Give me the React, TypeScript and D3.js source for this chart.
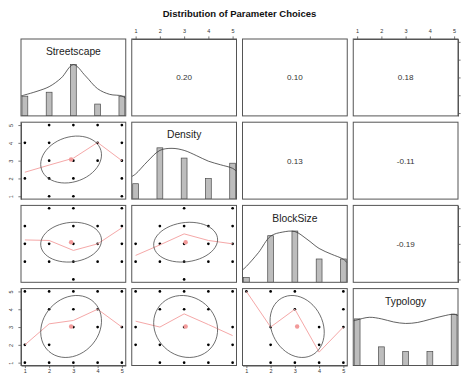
import React, { useEffect, useRef } from "react";
import * as d3 from "d3";

// ---------- data ----------
const title = "Distribution of Parameter Choices";
const variables = ["Streetscape", "Density", "BlockSize", "Typology"];
const levels = [1, 2, 3, 4, 5];
const tickLabels = ["1", "2", "3", "4", "5"];

// histogram counts per level 1..5
const countsStreetscape = [5, 6, 13, 3, 5];
const countsDensity = [3, 10, 8, 4, 7];
const countsBlockSize = [1, 10, 11, 5, 5];
const countsTypology = [10, 4, 3, 3, 11];

// scaled kernel density (max = 1)
const densityGrid = [0.84, 1, 1.5, 2, 2.5, 3, 3.5, 4, 4.5, 5, 5.16];
const densityStreetscape = [0.39, 0.41, 0.48, 0.57, 0.74, 1.0, 0.78, 0.53, 0.42, 0.39, 0.34];
const densityDensity = [0.44, 0.49, 0.74, 0.95, 0.99, 0.95, 0.85, 0.74, 0.67, 0.6, 0.54];
const densityBlockSize = [0.24, 0.31, 0.58, 0.9, 0.98, 0.99, 0.84, 0.66, 0.55, 0.45, 0.38];
const densityTypology = [0.87, 0.89, 0.94, 0.91, 0.85, 0.82, 0.84, 0.9, 0.96, 1.0, 0.97];

// correlations (upper panels)
const corrStreetscapeDensity = 0.2;
const corrStreetscapeBlockSize = 0.1;
const corrStreetscapeTypology = 0.18;
const corrDensityBlockSize = 0.13;
const corrDensityTypology = -0.11;
const corrBlockSizeTypology = -0.19;

// distinct observed combinations [x, y]
const pointsStreetscapeDensity = [
  [2, 5], [3, 5], [4, 5], [5, 5],
  [1, 4], [2, 4], [4, 4], [5, 4],
  [2, 3], [3, 3], [4, 3], [5, 3],
  [1, 2], [2, 2], [3, 2], [5, 2],
  [2, 1], [3, 1], [5, 1],
];
const pointsStreetscapeBlockSize = [
  [2, 5], [3, 5], [5, 5],
  [1, 4], [3, 4], [4, 4], [5, 4],
  [1, 3], [2, 3], [3, 3], [4, 3], [5, 3],
  [1, 2], [2, 2], [3, 2], [4, 2], [5, 2],
  [3, 1],
];
const pointsDensityBlockSize = [
  [3, 5], [5, 5],
  [2, 4], [3, 4], [4, 4], [5, 4],
  [1, 3], [2, 3], [3, 3], [4, 3], [5, 3],
  [1, 2], [2, 2], [3, 2], [4, 2], [5, 2],
  [3, 1],
];
const pointsStreetscapeTypology = [
  [1, 5], [2, 5], [3, 5], [4, 5], [5, 5],
  [2, 4], [3, 4], [4, 4],
  [3, 3], [4, 3], [5, 3],
  [1, 2], [2, 2],
  [1, 1], [2, 1], [3, 1], [4, 1], [5, 1],
];
const pointsDensityTypology = [
  [1, 5], [2, 5], [3, 5], [4, 5], [5, 5],
  [2, 4], [3, 4], [4, 4],
  [1, 3], [3, 3], [5, 3],
  [1, 2], [2, 2], [4, 2], [5, 2],
  [2, 1], [3, 1], [4, 1], [5, 1],
];
const pointsBlockSizeTypology = [
  [1, 5], [2, 5], [3, 5], [5, 5],
  [3, 4], [5, 4],
  [2, 3], [4, 3], [5, 3],
  [2, 2], [4, 2],
  [2, 1], [3, 1], [4, 1], [5, 1],
];

// lowess fits at x = 1..5
const smoothStreetscapeDensity = [2.35, 2.75, 3.14, 4.02, 3.0];
const smoothStreetscapeBlockSize = [3.22, 3.19, 2.63, 3.0, 3.9];
const smoothDensityBlockSize = [2.35, 2.94, 3.56, 3.19, 3.0];
const smoothStreetscapeTypology = [2.0, 3.18, 3.37, 4.0, 3.0];
const smoothDensityTypology = [3.33, 3.0, 3.74, 3.14, 2.52];
const smoothBlockSizeTypology = [5.0, 3.0, 4.0, 1.59, 3.0];

// ---------- derived tables ----------
const countsByVar = [countsStreetscape, countsDensity, countsBlockSize, countsTypology];
const densityByVar = [densityStreetscape, densityDensity, densityBlockSize, densityTypology];

const upperPanels = [
  { row: 0, col: 1, r: corrStreetscapeDensity },
  { row: 0, col: 2, r: corrStreetscapeBlockSize },
  { row: 0, col: 3, r: corrStreetscapeTypology },
  { row: 1, col: 2, r: corrDensityBlockSize },
  { row: 1, col: 3, r: corrDensityTypology },
  { row: 2, col: 3, r: corrBlockSizeTypology },
];
const lowerPanels = [
  { row: 1, col: 0, r: corrStreetscapeDensity, points: pointsStreetscapeDensity, smooth: smoothStreetscapeDensity },
  { row: 2, col: 0, r: corrStreetscapeBlockSize, points: pointsStreetscapeBlockSize, smooth: smoothStreetscapeBlockSize },
  { row: 2, col: 1, r: corrDensityBlockSize, points: pointsDensityBlockSize, smooth: smoothDensityBlockSize },
  { row: 3, col: 0, r: corrStreetscapeTypology, points: pointsStreetscapeTypology, smooth: smoothStreetscapeTypology },
  { row: 3, col: 1, r: corrDensityTypology, points: pointsDensityTypology, smooth: smoothDensityTypology },
  { row: 3, col: 2, r: corrBlockSizeTypology, points: pointsBlockSizeTypology, smooth: smoothBlockSizeTypology },
];

function stats(counts: number[]) {
  const n = d3.sum(counts);
  const mean = d3.sum(counts.map((c, i) => c * levels[i])) / n;
  const v = d3.sum(counts.map((c, i) => c * (levels[i] - mean) ** 2)) / (n - 1);
  return { mean, sd: Math.sqrt(v) };
}
const statsByVar = countsByVar.map(stats);

// ---------- layout ----------
const W = 464;
const H = 373;
const plotLeft = 21;
const plotRight = 458;
const plotTop = 39;
const plotBottom = 365.5;
const gapX = 6;
const gapY = 6.3;
const pw = (plotRight - plotLeft - 3 * gapX) / 4;
const ph = (plotBottom - plotTop - 3 * gapY) / 4;
const colX = (c: number) => plotLeft + c * (pw + gapX);
const rowY = (r: number) => plotTop + r * (ph + gapY);

const ext = d3.extent(levels) as [number, number];
const pad = (ext[1] - ext[0]) * 0.04;
const dom: [number, number] = [ext[0] - pad, ext[1] + pad];
const xScale = (c: number) => d3.scaleLinear().domain(dom).range([colX(c), colX(c) + pw]);
const yScale = (r: number) => d3.scaleLinear().domain(dom).range([rowY(r) + ph, rowY(r)]);
const yDiag = (r: number) => d3.scaleLinear().domain([0, 1.5]).range([rowY(r) + ph, rowY(r)]);

const font = "'Liberation Sans', Arial, Helvetica, sans-serif";
const borderColor = "#555";
const smoothColor = "#f5a8a8";
const meanColor = "#f29a9a";

function Axis({ orient, scale, showLabels }: { orient: string; scale: any; showLabels: boolean }) {
  const ref = useRef<SVGGElement>(null);
  useEffect(() => {
    const make =
      orient === "top" ? d3.axisTop : orient === "bottom" ? d3.axisBottom : orient === "left" ? d3.axisLeft : d3.axisRight;
    const axis = make(scale)
      .tickValues(levels)
      .tickFormat((d: any, i: number) => (showLabels ? tickLabels[i] : ""))
      .tickSize(2.6)
      .tickSizeOuter(0)
      .tickPadding(orient === "top" ? 3 : orient === "bottom" ? 0.6 : 2);
    const g = d3.select(ref.current as SVGGElement);
    g.call(axis as any);
    g.select(".domain").attr("stroke", borderColor);
    g.selectAll(".tick line").attr("stroke", borderColor).attr("stroke-width", 0.8);
    g.selectAll("text").attr("font-size", 5.5).attr("font-family", font).attr("fill", "#333");
    if (orient === "left") {
      g.selectAll("text")
        .attr("transform", "rotate(-90)")
        .attr("x", 0)
        .attr("y", -7.6)
        .attr("dy", 0)
        .attr("text-anchor", "middle");
    }
  }, [orient, scale, showLabels]);
  let transform = "";
  if (orient === "top") transform = `translate(0,${plotTop})`;
  if (orient === "bottom") transform = `translate(0,${plotBottom})`;
  if (orient === "left") transform = `translate(${plotLeft},0)`;
  if (orient === "right") transform = `translate(${plotRight},0)`;
  return <g ref={ref} transform={transform} />;
}

function ellipsePath(mx: number, my: number, sx: number, sy: number, r: number, xs: any, ys: any) {
  const seg = 51;
  const angles = d3.range(seg + 1).map((i) => (i * 2 * Math.PI) / seg);
  const theta = r !== 0 ? Math.sign(r) / Math.SQRT2 : 1 / Math.SQRT2;
  const a = Math.sqrt(1 + r);
  const b = Math.sqrt(1 - r);
  const pts = angles.map((t) => {
    const ux = Math.cos(t) * a * theta - Math.sin(t) * b * theta;
    const uy = Math.cos(t) * a * theta + Math.sin(t) * b * theta;
    return [xs(mx + ux * sx), ys(my + uy * sy)] as [number, number];
  });
  return d3.line()(pts) as string;
}

export default function App() {
  const panels: React.ReactNode[] = [];

  // diagonal
  variables.forEach((name, i) => {
    const xs = xScale(i);
    const ys = yDiag(i);
    const counts = countsByVar[i];
    const maxC = d3.max(counts) as number;
    const dens = densityByVar[i];
    const line = d3
      .line<number>()
      .x((_, k) => xs(densityGrid[k]))
      .y((d) => ys(d))
      .curve(d3.curveCatmullRom.alpha(0.5));
    panels.push(
      <g key={`d${i}`}>
        <g clipPath={`url(#clip-${i}-${i})`}>
          {levels.map((v, k) => (
            <rect
              key={k}
              x={xs(v - 0.12)}
              y={ys(counts[k] / maxC)}
              width={xs(v + 0.12) - xs(v - 0.12)}
              height={ys(0) - ys(counts[k] / maxC)}
              fill="#bdbdbd"
              stroke="#4a4a4a"
              strokeWidth={0.7}
            />
          ))}
          <path d={line(dens) as string} fill="none" stroke="#3a3a3a" strokeWidth={0.8} />
        </g>
        <text
          x={colX(i) + pw / 2}
          y={rowY(i) + 16.2}
          textAnchor="middle"
          fontFamily={font}
          fontSize={10.3}
          fill="#222"
        >
          {name}
        </text>
      </g>
    );
  });

  // upper: correlations
  upperPanels.forEach((p) => {
    panels.push(
      <text
        key={`u${p.row}${p.col}`}
        x={colX(p.col) + pw / 2}
        y={rowY(p.row) + ph / 2 + 2.9}
        textAnchor="middle"
        fontFamily={font}
        fontSize={8.1}
        fill="#333"
      >
        {p.r.toFixed(2)}
      </text>
    );
  });

  // lower: scatter + smooth + ellipse
  lowerPanels.forEach((p) => {
    const xs = xScale(p.col);
    const ys = yScale(p.row);
    const sx = statsByVar[p.col];
    const sy = statsByVar[p.row];
    const smoothLine = d3
      .line<number>()
      .x((_, k) => xs(levels[k]))
      .y((d) => ys(d));
    panels.push(
      <g key={`l${p.row}${p.col}`} clipPath={`url(#clip-${p.row}-${p.col})`}>
        {p.points.map((pt, k) => (
          <circle key={k} cx={xs(pt[0])} cy={ys(pt[1])} r={1.35} fill="#000" />
        ))}
        <path d={smoothLine(p.smooth) as string} fill="none" stroke={smoothColor} strokeWidth={1} />
        <path
          d={ellipsePath(sx.mean, sy.mean, sx.sd, sy.sd, p.r, xs, ys)}
          fill="none"
          stroke="#4a4a4a"
          strokeWidth={0.8}
        />
        <circle cx={xs(sx.mean)} cy={ys(sy.mean)} r={2.2} fill={meanColor} />
      </g>
    );
  });

  const clips: React.ReactNode[] = [];
  const borders: React.ReactNode[] = [];
  for (let r = 0; r < 4; r++) {
    for (let c = 0; c < 4; c++) {
      clips.push(
        <clipPath key={`c${r}${c}`} id={`clip-${r}-${c}`}>
          <rect x={colX(c)} y={rowY(r)} width={pw} height={ph} />
        </clipPath>
      );
      borders.push(
        <rect
          key={`b${r}${c}`}
          x={colX(c)}
          y={rowY(r)}
          width={pw}
          height={ph}
          fill="none"
          stroke={borderColor}
          strokeWidth={1}
        />
      );
    }
  }

  return (
    <svg
      width={W}
      height={H}
      viewBox={`0 0 ${W} ${H}`}
      style={{ position: "absolute", left: 0, top: 0, background: "#fff" }}
    >
      <defs>{clips}</defs>
      <rect x={0} y={0} width={W} height={H} fill="#fff" />
      <text x={(plotLeft + plotRight) / 2} y={17.4} textAnchor="middle" fontFamily={font} fontWeight="bold" fontSize={9.5} fill="#111">
        {title}
      </text>
      {panels}
      {borders}
      {/* axes: top on cols 1,3; bottom on cols 0,2; left on rows 1,3; right on rows 0,2 */}
      <Axis orient="top" scale={xScale(1)} showLabels={true} />
      <Axis orient="top" scale={xScale(3)} showLabels={true} />
      <Axis orient="bottom" scale={xScale(0)} showLabels={true} />
      <Axis orient="bottom" scale={xScale(2)} showLabels={true} />
      <Axis orient="left" scale={yScale(1)} showLabels={true} />
      <Axis orient="left" scale={yScale(3)} showLabels={true} />
      <Axis orient="right" scale={yScale(0)} showLabels={false} />
      <Axis orient="right" scale={yScale(2)} showLabels={false} />
    </svg>
  );
}
